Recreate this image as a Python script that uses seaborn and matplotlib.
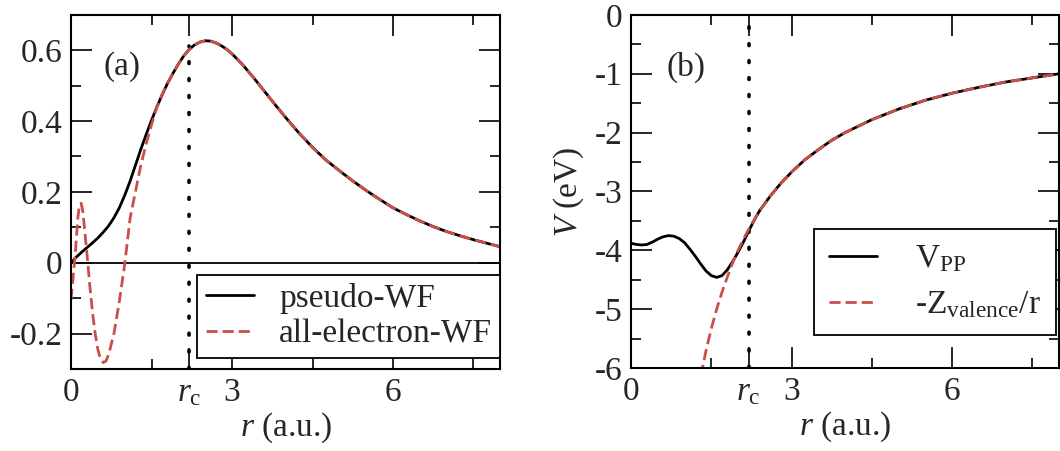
import matplotlib
matplotlib.use("Agg")
import pandas as pd
import matplotlib.pyplot as plt
import seaborn as sns

# ---- panel (a): radial wavefunctions ----
r_ps = [0.0, 0.1, 0.2, 0.3, 0.4, 0.5, 0.6, 0.7, 0.8, 0.9, 1.0, 1.1, 1.2, 1.3,
        1.4, 1.5, 1.6, 1.7, 1.8, 1.9, 2.0, 2.1, 2.2, 2.3, 2.4, 2.5, 2.6, 2.7,
        2.8, 2.9, 3.0, 3.2, 3.4, 3.6, 3.8, 4.0, 4.25, 4.5, 4.75, 5.0, 5.25,
        5.5, 5.75, 6.0, 6.25, 6.5, 6.75, 7.0, 7.25, 7.5, 7.75, 8.0]
wf_ps = [0.0, 0.016, 0.03, 0.043, 0.056, 0.07, 0.086, 0.104, 0.127, 0.155,
         0.19, 0.23, 0.275, 0.32, 0.362, 0.402, 0.44, 0.475, 0.507, 0.535,
         0.561, 0.584, 0.602, 0.615, 0.623, 0.627, 0.626, 0.621, 0.613, 0.603,
         0.59, 0.559, 0.523, 0.485, 0.447, 0.41, 0.366, 0.326, 0.29, 0.26,
         0.231, 0.204, 0.179, 0.155, 0.136, 0.118, 0.102, 0.088, 0.076, 0.065,
         0.055, 0.045]

r_ae = [0.0, 0.04, 0.07, 0.1, 0.13, 0.16, 0.19, 0.22, 0.25, 0.3, 0.35, 0.4,
        0.45, 0.5, 0.55, 0.6, 0.65, 0.7, 0.8, 0.9, 1.0, 1.1, 1.2, 1.3, 1.4,
        1.5, 1.6]
wf_ae = [-0.105, -0.04, 0.01, 0.07, 0.13, 0.165, 0.168, 0.145, 0.10, 0.02,
         -0.065, -0.14, -0.2, -0.245, -0.272, -0.282, -0.278, -0.26, -0.2,
         -0.11, -0.005, 0.125, 0.2, 0.275, 0.335, 0.39, 0.44]

# ---- panel (b): potentials ----
r_pp = [0.0, 0.1, 0.2, 0.3, 0.4, 0.5, 0.6, 0.7, 0.8, 0.9, 1.0, 1.1, 1.2, 1.3,
        1.4, 1.5, 1.6, 1.7, 1.8, 1.9, 2.0, 2.1, 2.2, 2.3]
v_pp = [-3.88, -3.90, -3.91, -3.90, -3.86, -3.81, -3.77, -3.75, -3.76, -3.80,
        -3.87, -3.98, -4.10, -4.23, -4.35, -4.43, -4.46, -4.43, -4.33, -4.19,
        -4.03, -3.86, -3.67, -3.49]

r_zv = [1.2, 1.3, 1.4, 1.5, 1.6, 1.7, 1.8, 1.9, 2.0, 2.1, 2.2, 2.3, 2.4, 2.6,
        2.8, 3.0, 3.25, 3.5, 3.75, 4.0, 4.5, 5.0, 5.5, 6.0, 6.5, 7.0, 7.5, 8.0]
v_zv = [-6.67, -6.15, -5.71, -5.33, -5.0, -4.71, -4.45, -4.21, -4.0, -3.81,
        -3.64, -3.48, -3.33, -3.08, -2.86, -2.67, -2.46, -2.29, -2.13, -2.0,
        -1.78, -1.6, -1.45, -1.33, -1.23, -1.14, -1.07, -1.0]

r_c = 2.2
xticks = [0, r_c, 3, 6]
xticklabels = ["0", r"$r_\mathrm{c}$", "3", "6"]
xminor = [1.5, 4.5, 7.5]
a_yticks = [-0.2, 0, 0.2, 0.4, 0.6]
a_yticklabels = ["-0.2", "0", "0.2", "0.4", "0.6"]
a_yminor = [-0.3, -0.1, 0.1, 0.3, 0.5, 0.7]
b_yticks = [-6, -5, -4, -3, -2, -1, 0]
b_yticklabels = ["-6", "-5", "-4", "-3", "-2", "-1", "0"]
b_yminor = [-5.5, -4.5, -3.5, -2.5, -1.5, -0.5]

red = "#cc4f47"
fs = 24

sns.set_style("ticks")
plt.rcParams["font.family"] = ["Liberation Serif", "DejaVu Serif"]
plt.rcParams["mathtext.fontset"] = "custom"
plt.rcParams["mathtext.rm"] = "Liberation Serif"
plt.rcParams["mathtext.it"] = "Liberation Serif:italic"
plt.rcParams["axes.unicode_minus"] = False
plt.rcParams["font.size"] = fs

fig = plt.figure(figsize=(10.6, 4.51), dpi=100)
ax1 = fig.add_axes([0.067, 0.182, 0.405, 0.785])
ax2 = fig.add_axes([0.5953, 0.184, 0.404, 0.783])

ae_df = pd.DataFrame({"r": r_ae + r_ps[17:], "wf": wf_ae + wf_ps[17:]})
ps_df = pd.DataFrame({"r": r_ps, "wf": wf_ps})

ax1.axhline(0, color="black", lw=1.3, zorder=1)
ax1.plot([r_c, r_c], [-0.3, 0.612], color="black", lw=2.6,
         linestyle=(0, (0.5, 4.2)), dash_capstyle="round", zorder=1)
sns.lineplot(data=ps_df, x="r", y="wf", ax=ax1, color="black", lw=2,
             sort=False, estimator=None, label="pseudo-WF")
sns.lineplot(data=ae_df, x="r", y="wf", ax=ax1, color=red, lw=2,
             sort=False, estimator=None, label="all-electron-WF")
ax1.lines[-1].set_dashes([4, 1.8])

pp_df = pd.DataFrame({"r": r_pp + r_zv[12:], "v": v_pp + v_zv[12:]})
zv_df = pd.DataFrame({"r": r_zv, "v": v_zv})

ax2.plot([r_c, r_c], [-6, -0.15], color="black", lw=2.6,
         linestyle=(0, (0.5, 4.2)), dash_capstyle="round", zorder=1)
sns.lineplot(data=pp_df, x="r", y="v", ax=ax2, color="black", lw=2,
             sort=False, estimator=None, label=r"V$_\mathrm{PP}$")
sns.lineplot(data=zv_df, x="r", y="v", ax=ax2, color=red, lw=2,
             sort=False, estimator=None, label=r"-Z$_\mathrm{valence}$/r")
ax2.lines[-1].set_dashes([4, 1.8])

for ax in (ax1, ax2):
    ax.set_xlim(0, 8)
    ax.set_xticks(xticks)
    ax.set_xticklabels(xticklabels)
    ax.set_xticks(xminor, minor=True)
    ax.set_xlabel(r"$r$ (a.u.)", labelpad=2)
    ax.tick_params(which="both", direction="in", top=True, right=True,
                   width=1.4, labelsize=fs, pad=6)
    ax.tick_params(which="major", length=15)
    ax.tick_params(which="minor", length=7.5)
    for s in ax.spines.values():
        s.set_linewidth(1.5)
        s.set_color("black")

ax1.set_ylim(-0.3, 0.7)
ax1.set_yticks(a_yticks)
ax1.set_yticklabels(a_yticklabels)
ax1.set_yticks(a_yminor, minor=True)
ax1.set_ylabel("")
ax1.text(0.119, 0.853, "(a)", transform=ax1.transAxes, ha="center",
         va="center", fontsize=fs)

ax2.set_ylim(-6, 0)
ax2.set_yticks(b_yticks)
ax2.set_yticklabels(b_yticklabels)
ax2.set_yticks(b_yminor, minor=True)
ax2.set_ylabel(r"$V$ (eV)", labelpad=6)
ax2.text(0.129, 0.85, "(b)", transform=ax2.transAxes, ha="center",
         va="center", fontsize=fs)

leg1 = ax1.legend(loc="lower right", bbox_to_anchor=(1.0, 0.031),
                  borderaxespad=0, fancybox=False, edgecolor="black",
                  framealpha=1, handlelength=1.45, handletextpad=0.75,
                  labelspacing=0.15, borderpad=0.25, fontsize=fs)
leg1.get_frame().set_linewidth(1.3)
leg2 = ax2.legend(loc="lower right", bbox_to_anchor=(0.993, 0.093),
                  borderaxespad=0, fancybox=False, edgecolor="black",
                  framealpha=1, handlelength=1.45, handletextpad=1.15,
                  labelspacing=0.45, borderpad=0.45, fontsize=fs)
leg2.get_frame().set_linewidth(1.3)

fig.savefig("out.png", dpi=100)
